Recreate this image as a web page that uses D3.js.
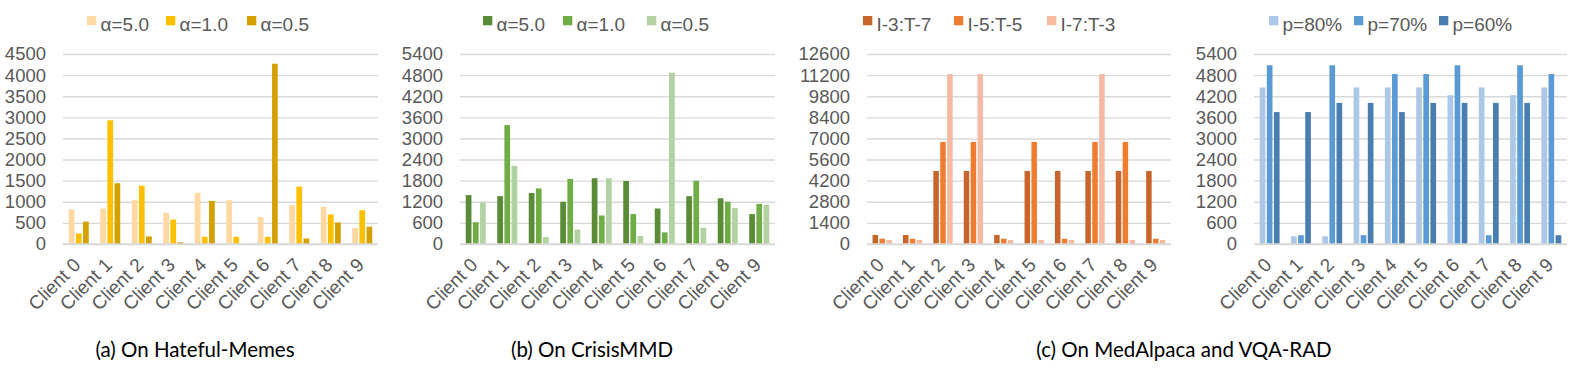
<!DOCTYPE html>
<html>
<head>
<meta charset="utf-8">
<script src="https://cdn.jsdelivr.net/npm/d3@7"></script>
<style>
  html, body { margin: 0; padding: 0; background: #fff; }
  svg { display: block; }
</style>
</head>
<body>
<svg id="chart" width="1578" height="368"></svg>
<script>
// ---------------- DATA ----------------
const clients = ["Client 0","Client 1","Client 2","Client 3","Client 4","Client 5","Client 6","Client 7","Client 8","Client 9"];

const hmSeries = ["α=5.0","α=1.0","α=0.5"];
const hmA50 = [820, 840, 1040, 740, 1210, 1040, 640, 920, 880, 380];
const hmA10 = [250, 2930, 1380, 580, 170, 170, 170, 1360, 700, 800];
const hmA05 = [530, 1440, 180, 40, 1020, 0, 4270, 130, 510, 410];
const hmTicks = [0, 500, 1000, 1500, 2000, 2500, 3000, 3500, 4000, 4500];

const cmSeries = ["α=5.0","α=1.0","α=0.5"];
const cmA50 = [1390, 1360, 1450, 1200, 1870, 1790, 1010, 1360, 1300, 850];
const cmA10 = [620, 3380, 1580, 1850, 810, 850, 330, 1800, 1200, 1140];
const cmA05 = [1180, 2220, 200, 410, 1870, 230, 4870, 460, 1020, 1110];
const cmTicks = [0, 600, 1200, 1800, 2400, 3000, 3600, 4200, 4800, 5400];

const medSeries = ["I-3:T-7","I-5:T-5","I-7:T-3"];
const medI3 = [600, 600, 4840, 4840, 600, 4840, 4840, 4840, 4840, 4840];
const medI5 = [350, 350, 6770, 6770, 350, 6770, 350, 6770, 6770, 350];
const medI7 = [265, 265, 11270, 11270, 265, 265, 265, 11270, 265, 265];
const medTicks = [0, 1400, 2800, 4200, 5600, 7000, 8400, 9800, 11200, 12600];

const vqaSeries = ["p=80%","p=70%","p=60%"];
const vqaP80 = [4450, 220, 220, 4450, 4450, 4450, 4230, 4450, 4230, 4450];
const vqaP70 = [5080, 250, 5080, 250, 4830, 4830, 5080, 250, 5080, 4830];
const vqaP60 = [3750, 3750, 4010, 4010, 3750, 4010, 4010, 4010, 4010, 250];
const vqaTicks = [0, 600, 1200, 1800, 2400, 3000, 3600, 4200, 4800, 5400];

const captions = ["(a) On Hateful-Memes", "(b) On CrisisMMD", "(c) On MedAlpaca and VQA-RAD"];

// ---------------- LAYOUT / STYLE ----------------
const panels = [
  { x0: 63,   x1: 378,  series: hmSeries,  values: [hmA50, hmA10, hmA05], ticks: hmTicks,
    colors: ["#FFD9A1", "#FFC000", "#D5A100"], legendX: [87, 166, 247] },
  { x0: 460,  x1: 775,  series: cmSeries,  values: [cmA50, cmA10, cmA05], ticks: cmTicks,
    colors: ["#5A8C38", "#70AD47", "#B3D2A1"], legendX: [483, 563, 647] },
  { x0: 867,  x1: 1171, series: medSeries, values: [medI3, medI5, medI7], ticks: medTicks,
    colors: ["#C8652A", "#ED7D31", "#F6B9A2"], legendX: [863, 954, 1047] },
  { x0: 1254, x1: 1567, series: vqaSeries, values: [vqaP80, vqaP70, vqaP60], ticks: vqaTicks,
    colors: ["#ADC7E8", "#5B9BD5", "#4A7EB0"], legendX: [1269, 1354, 1439] }
];
const yTop = 54, yBottom = 244;
const captionPos = [[195, 357], [592, 357], [1184, 357]];
const gray = "#595959";

const svg = d3.select("#chart");

panels.forEach(p => {
  const g = svg.append("g");
  const x0 = d3.scaleBand().domain(clients).range([p.x0, p.x1])
    .paddingInner(0.365).paddingOuter(0.1825);
  const x1 = d3.scaleBand().domain(p.series).range([0, x0.bandwidth()])
    .paddingInner(0.2).paddingOuter(0);
  const y = d3.scaleLinear().domain([0, d3.max(p.ticks)]).range([yBottom, yTop]);

  // gridlines via axis
  const grid = g.append("g").attr("transform", `translate(${p.x0},0)`)
    .call(d3.axisLeft(y).tickValues(p.ticks).tickSize(-(p.x1 - p.x0)).tickFormat(""));
  grid.select(".domain").remove();
  grid.selectAll(".tick line").attr("stroke", "#D9D9D9").attr("stroke-width", 1.4);

  // tick labels
  const ax = g.append("g").attr("transform", `translate(${p.x0 - 15},0)`)
    .call(d3.axisLeft(y).tickValues(p.ticks).tickSize(0).tickPadding(2).tickFormat(d3.format("d")));
  ax.select(".domain").remove();
  ax.selectAll("text").attr("fill", gray).attr("font-size", "18.5px")
    .attr("font-family", "'Liberation Sans', Arial, sans-serif");

  // bars
  const rows = clients.map((c, i) => ({ c, vals: p.series.map((s, k) => ({ s, k, v: p.values[k][i] })) }));
  const grp = g.selectAll(".grp").data(rows).enter().append("g")
    .attr("transform", d => `translate(${x0(d.c)},0)`);
  grp.selectAll("rect").data(d => d.vals.filter(e => e.v > 0)).enter().append("rect")
    .attr("x", d => x1(d.s))
    .attr("width", x1.bandwidth())
    .attr("y", d => y(d.v))
    .attr("height", d => y(0) - y(d.v))
    .attr("fill", d => p.colors[d.k]);

  // baseline
  g.append("line").attr("x1", p.x0).attr("x2", p.x1).attr("y1", y(0)).attr("y2", y(0))
    .attr("stroke", "#D9D9D9").attr("stroke-width", 1.4);

  // x labels
  const xa = g.append("g").attr("transform", `translate(0,${yBottom})`)
    .call(d3.axisBottom(x0).tickSize(0).tickFormat(d => d));
  xa.select(".domain").remove();
  xa.selectAll("text")
    .attr("fill", gray).attr("font-size", "19px")
    .attr("font-family", "'Liberation Sans', Arial, sans-serif")
    .attr("text-anchor", "end")
    .attr("y", 0).attr("dy", 0)
    .attr("transform", "translate(3,22) rotate(-45)");

  // legend
  const lg = g.append("g");
  p.series.forEach((s, k) => {
    lg.append("rect").attr("x", p.legendX[k]).attr("y", 16).attr("width", 9.3).attr("height", 9.3)
      .attr("fill", p.colors[k]);
    lg.append("text").attr("x", p.legendX[k] + 13.5).attr("y", 30.5).text(s)
      .attr("fill", gray).attr("font-size", "19px")
      .attr("font-family", "'Liberation Sans', Arial, sans-serif");
  });
});

// captions
svg.selectAll(".cap").data(captions).enter().append("text")
  .attr("x", (d, i) => captionPos[i][0]).attr("y", (d, i) => captionPos[i][1])
  .attr("text-anchor", "middle").attr("fill", "#000")
  .attr("font-family", "Lato, 'Open Sans', sans-serif").attr("font-size", "20.5px")
  .text(d => d);
</script>
</body>
</html>
